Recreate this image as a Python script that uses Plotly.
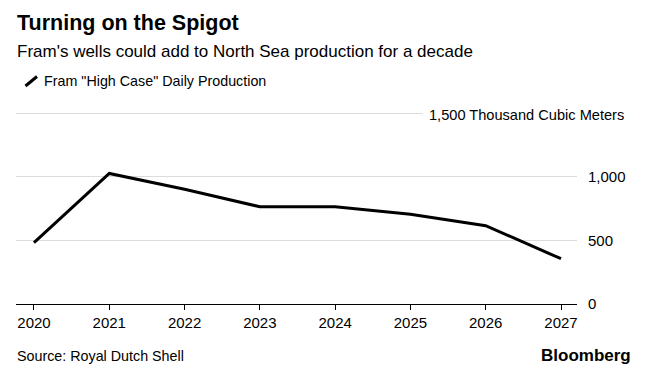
import plotly.graph_objects as go

# Data
years = [2020, 2021, 2022, 2023, 2024, 2025, 2026, 2027]
production = [482, 1027, 902, 765, 765, 705, 616, 356]
series_name = 'Fram "High Case" Daily Production'
y_tickvals = [0, 500, 1000, 1500]
y_ticktext = ["0", "500", "1,000", ""]
top_label = "1,500 Thousand Cubic Meters"

W, H = 648, 369
L, R, T, B = 16, 577, 104, 304
FONT = "Liberation Sans, Arial, sans-serif"


def px(x):
    return (x - L) / (R - L)


def py(y):
    return (B - y) / (B - T)


fig = go.Figure()
fig.add_trace(go.Scatter(
    x=years, y=production, mode="lines", name=series_name,
    line=dict(color="#000000", width=3), showlegend=False,
    hoverinfo="x+y",
))

fig.update_layout(
    width=W, height=H,
    margin=dict(l=L, r=W - R, t=T, b=H - B, pad=0),
    paper_bgcolor="white", plot_bgcolor="white",
    font=dict(family=FONT, color="#000000", size=14),
    xaxis=dict(
        range=[2019.761, 2027.2125], tickmode="array", tickvals=years,
        ticktext=[str(y) for y in years],
        showgrid=False, zeroline=False,
        showline=True, linecolor="#000000", linewidth=1.3,
        ticks="outside", ticklen=5, tickwidth=1.3, tickcolor="#000000",
        tickfont=dict(size=15, color="#000000"),
    ),
    yaxis=dict(
        range=[0, 1573], side="right", tickmode="array",
        tickvals=y_tickvals, ticktext=y_ticktext,
        showgrid=True, gridcolor="#dcdcdc", gridwidth=1,
        zeroline=False, showline=False, ticks="",
        ticklabelstandoff=10,
        tickfont=dict(size=15, color="#000000"),
    ),
    annotations=[
        dict(text="<b>Turning on the Spigot</b>", xref="paper", yref="paper",
             x=px(15), y=py(23.5), xanchor="left", yanchor="middle",
             showarrow=False, font=dict(size=21.5, color="#000000", family=FONT)),
        dict(text="Fram's wells could add to North Sea production for a decade",
             xref="paper", yref="paper", x=px(15), y=py(51.5),
             xanchor="left", yanchor="middle", showarrow=False,
             font=dict(size=17, color="#000000", family=FONT)),
        dict(text=series_name, xref="paper", yref="paper", x=px(41.5), y=py(81),
             xanchor="left", yanchor="middle", showarrow=False,
             font=dict(size=14.3, color="#000000", family=FONT)),
        dict(text=top_label, xref="paper", yref="paper", x=px(631), y=py(114.5),
             xanchor="right", yanchor="middle", showarrow=False,
             bgcolor="white", borderpad=6,
             font=dict(size=14.6, color="#000000", family=FONT)),
        dict(text="Source: Royal Dutch Shell", xref="paper", yref="paper",
             x=px(15), y=py(356), xanchor="left", yanchor="middle",
             showarrow=False, font=dict(size=14.3, color="#000000", family=FONT)),
        dict(text="<b>Bloomberg</b>", xref="paper", yref="paper",
             x=px(633), y=py(355), xanchor="right", yanchor="middle",
             showarrow=False, font=dict(size=17, color="#000000", family=FONT)),
    ],
    shapes=[
        dict(type="line", xref="paper", yref="paper",
             x0=px(25.5), y0=py(86), x1=px(37), y1=py(76.5),
             line=dict(color="#000000", width=3)),
    ],
)

fig.write_html(
    "out.html",
    config={"displayModeBar": False},
    post_script="document.body.style.margin='0';document.body.style.padding='0';",
)
